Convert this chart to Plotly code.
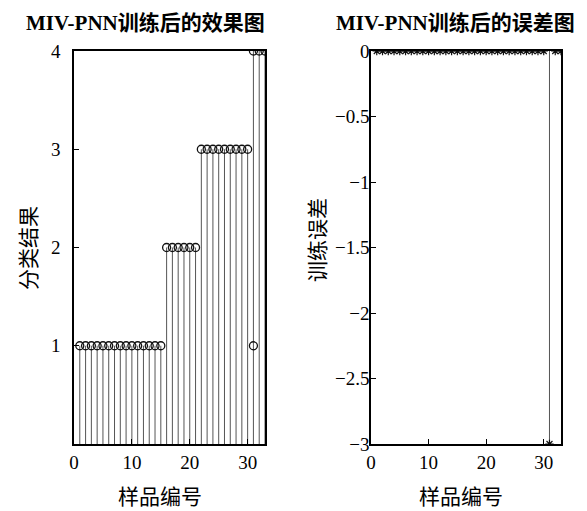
import plotly.graph_objects as go

# ---- data ----
samples = list(range(1, 34))
actual_class = [1]*15 + [2]*6 + [3]*9 + [4, 4, 4]
pred_extra_x = [31]
pred_extra_y = [1]
error_vals = [0]*30 + [-3] + [0, 0]

left_xticks = [0, 10, 20, 30]
left_yticks = [1, 2, 3, 4]
right_yticks = [0, -0.5, -1, -1.5, -2, -2.5, -3]

titles = ["MIV-PNN训练后的效果图", "MIV-PNN训练后的误差图"]
xlab = "样品编号"
ylabs = ["分类结果", "训练误差"]

FONT = "Liberation Serif, Times New Roman, Noto Sans CJK SC, serif"
STEM = "#555555"
W, H, OFF = 587, 511, 8  # page body margin offset

def PX(px):
    return (px - OFF) / W

def PY(py):
    return 1 - (py - OFF) / H

def stem_xy(xs, ys):
    sx, sy = [], []
    for x, y in zip(xs, ys):
        sx += [x, x, None]
        sy += [0, y, None]
    return sx, sy

fig = go.Figure()

sx, sy = stem_xy(samples, actual_class)
fig.add_trace(go.Scatter(x=sx, y=sy, mode="lines", line=dict(color=STEM, width=1),
                         xaxis="x", yaxis="y", hoverinfo="skip", showlegend=False))
circ = dict(symbol="circle-open", size=8, color="#111", line=dict(width=1.3, color="#111"))
fig.add_trace(go.Scatter(x=samples, y=actual_class, mode="markers", marker=circ,
                         xaxis="x", yaxis="y", showlegend=False))
fig.add_trace(go.Scatter(x=pred_extra_x, y=pred_extra_y, mode="markers", marker=circ,
                         xaxis="x", yaxis="y", showlegend=False))

sx2, sy2 = stem_xy(samples, error_vals)
fig.add_trace(go.Scatter(x=sx2, y=sy2, mode="lines", line=dict(color=STEM, width=1),
                         xaxis="x2", yaxis="y2", hoverinfo="skip", showlegend=False))
fig.add_trace(go.Scatter(x=samples, y=error_vals, mode="markers",
                         marker=dict(symbol="asterisk-open", size=7, color="#111",
                                     line=dict(width=1.2, color="#111")),
                         xaxis="x2", yaxis="y2", showlegend=False))

axis_common = dict(showgrid=False, zeroline=False, showline=True, linecolor="black",
                   linewidth=1.6, mirror=True, ticks="inside", ticklen=5,
                   tickcolor="black", automargin=False,
                   tickfont=dict(family=FONT, size=19, color="black"))

ydom = [PY(444), PY(51)]
fig.update_layout(
    width=W, height=H, margin=dict(l=0, r=0, t=0, b=0, autoexpand=False),
    paper_bgcolor="white", plot_bgcolor="white",
    xaxis=dict(domain=[PX(74), PX(265)], range=[0, 33], tickvals=left_xticks,
               anchor="y", **axis_common),
    yaxis=dict(domain=ydom, range=[0, 4], tickvals=left_yticks, anchor="x",
               ticklabelstandoff=8, **axis_common),
    xaxis2=dict(domain=[PX(371), PX(561)], range=[0, 33], tickvals=left_xticks,
                anchor="y2", **axis_common),
    yaxis2=dict(domain=ydom, range=[-3, 0], tickvals=right_yticks, anchor="x2",
                ticklabelstandoff=-4, **axis_common),
)

def ann(text, px, py, size, angle=0):
    fig.add_annotation(text=text, x=PX(px), y=PY(py), xref="paper", yref="paper",
                       xanchor="center", yanchor="middle", showarrow=False,
                       textangle=angle, font=dict(family=FONT, size=size, color="black"))

ann("<b>" + titles[0] + "</b>", 145, 23, 21)
ann("<b>" + titles[1] + "</b>", 455, 23, 21)
ann(xlab, 160, 497, 21)
ann(xlab, 461, 497, 21)
ann(ylabs[0], 29, 248, 21, -90)
ann(ylabs[1], 318, 240, 21, -90)

fig.write_html("out.html")
